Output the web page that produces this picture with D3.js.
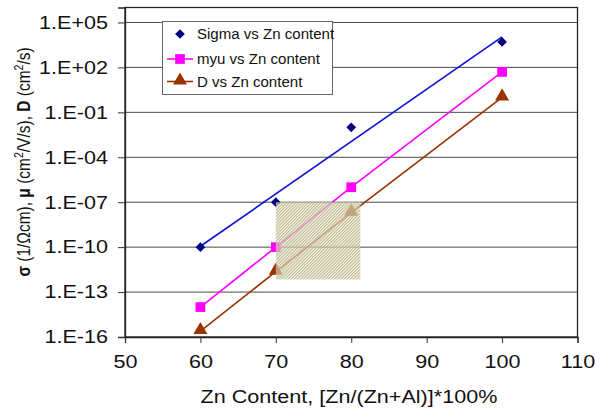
<!DOCTYPE html>
<html><head><meta charset="utf-8">
<script src="https://cdn.jsdelivr.net/npm/d3@7"></script>
<style>body{margin:0;background:#fff}svg{display:block}text{font-family:Arial,"Liberation Sans",sans-serif}</style>
</head><body>
<svg id="c" width="595" height="408"></svg>
<script>
const zn = [60, 70, 80, 100];
const sigma = [1e-10, 1e-7, 1e-2, 5e3];
const myu = [1e-14, 1e-10, 1e-6, 50];
const dvals = [2.5e-16, 2.3e-12, 2e-8, 1];
const xTicks = [50, 60, 70, 80, 90, 100, 110];
const yTicks = [1e-16, 1e-13, 1e-10, 1e-7, 1e-4, 1e-1, 1e2, 1e5];
const yTickLabels = ["1.E-16", "1.E-13", "1.E-10", "1.E-07", "1.E-04", "1.E-01", "1.E+02", "1.E+05"];
const hatchX = [70, 81.2];
const hatchY = [7e-13, 1e-7];
const legendNames = ["Sigma vs Zn content", "myu vs Zn content", "D vs Zn content"];

const svg = d3.select("#c");
const L = 125, R = 577.5, T = 7.5, B = 337;
const SX = 1.18; // horizontal stretch of the original picture's text
const x = d3.scaleLinear().domain([50, 110]).range([L, R]);
const y = d3.scaleLog().domain([1e-16, 1e6]).range([B, T]);

function stretch(sel, f) {
  sel.each(function () {
    const w = this.getComputedTextLength();
    d3.select(this).attr("textLength", w * f).attr("lengthAdjust", "spacingAndGlyphs");
  });
}

// gridlines
svg.append("g").selectAll("line").data(yTicks.slice(1)).join("line")
  .attr("x1", L).attr("x2", R).attr("y1", d => y(d)).attr("y2", d => y(d))
  .attr("stroke", "#4a4a4a").attr("stroke-width", 1);

// plot frame
svg.append("rect").attr("x", L).attr("y", T).attr("width", R - L).attr("height", B - T)
  .attr("fill", "none").attr("stroke", "#222").attr("stroke-width", 1.3);

// axes
const yAx = svg.append("g").attr("transform", `translate(${L},0)`)
  .call(d3.axisLeft(y).tickValues(yTicks).tickSize(7).tickPadding(10)
    .tickFormat((d, i) => yTickLabels[i]));
const xAx = svg.append("g").attr("transform", `translate(0,${B})`)
  .call(d3.axisBottom(x).tickValues(xTicks).tickSize(6).tickPadding(12).tickFormat(d3.format("d")));
[yAx, xAx].forEach(g => {
  g.select(".domain").attr("stroke", "#222").attr("stroke-width", 1.3);
  g.selectAll(".tick line").attr("stroke", "#333");
  g.selectAll("text").attr("font-size", 18.3).attr("fill", "#111")
    .style("font-family", "Arial, 'Liberation Sans', sans-serif");
});
stretch(yAx.selectAll("text"), SX);
stretch(xAx.selectAll("text"), SX);
xAx.selectAll("text").attr("dy", "0.71em");

// sigma exponential trendline (least squares on log10)
const lx = zn, ly = sigma.map(Math.log10);
const mx = d3.mean(lx), my = d3.mean(ly);
const slope = d3.sum(lx, (v, i) => (v - mx) * (ly[i] - my)) / d3.sum(lx, v => (v - mx) ** 2);
const trend = [zn[0], zn[zn.length - 1]].map(v => [v, Math.pow(10, my + slope * (v - mx))]);
svg.append("path").datum(trend)
  .attr("d", d3.line().x(d => x(d[0])).y(d => y(d[1])))
  .attr("fill", "none").attr("stroke", "#1010d8").attr("stroke-width", 1.6);

const line = d3.line().x((d, i) => x(zn[i])).y(d => y(d));
svg.append("path").datum(myu).attr("d", line).attr("fill", "none").attr("stroke", "#ff00ff").attr("stroke-width", 1.6);
svg.append("path").datum(dvals).attr("d", line).attr("fill", "none").attr("stroke", "#993300").attr("stroke-width", 1.6);

const sym = {
  sigma: d3.symbol().type(d3.symbolDiamond2).size(60),
  myu: d3.symbol().type(d3.symbolSquare).size(95),
  d: d3.symbol().type(d3.symbolTriangle).size(85)
};
svg.append("g").selectAll("path").data(sigma).join("path")
  .attr("transform", (d, i) => `translate(${x(zn[i])},${y(d)})`).attr("d", sym.sigma).attr("fill", "#000080");
svg.append("g").selectAll("path").data(myu).join("path")
  .attr("transform", (d, i) => `translate(${x(zn[i])},${y(d)})`).attr("d", sym.myu).attr("fill", "#ff00ff");
svg.append("g").selectAll("path").data(dvals).join("path")
  .attr("transform", (d, i) => `translate(${x(zn[i])},${y(d) - 1})`).attr("d", sym.d).attr("fill", "#993300");

// hatched region
const defs = svg.append("defs");
const pw = 2.2;
const pat = defs.append("pattern").attr("id", "hatch").attr("patternUnits", "userSpaceOnUse")
  .attr("width", pw).attr("height", pw).attr("patternTransform", "rotate(45)");
pat.append("rect").attr("width", pw).attr("height", pw).attr("fill", "#f2efe0").attr("fill-opacity", 0.6);
pat.append("rect").attr("width", pw / 2).attr("height", pw).attr("fill", "#aaa36c").attr("fill-opacity", 0.72);
svg.append("rect")
  .attr("x", x(hatchX[0])).attr("y", y(hatchY[1]))
  .attr("width", x(hatchX[1]) - x(hatchX[0])).attr("height", y(hatchY[0]) - y(hatchY[1]))
  .attr("fill", "url(#hatch)");

// legend
const lg = svg.append("g");
lg.append("rect").attr("x", 162.5).attr("y", 21.5).attr("width", 170).attr("height", 73)
  .attr("fill", "#fff").attr("stroke", "#666").attr("stroke-width", 1);
const ly0 = [34, 59, 81.5];
const lcol = [["#000080", null], ["#ff00ff", "#ff00ff"], ["#993300", "#993300"]];
const lsym = [sym.sigma, sym.myu, sym.d];
legendNames.forEach((n, i) => {
  if (lcol[i][1]) lg.append("line").attr("x1", 167).attr("x2", 193).attr("y1", ly0[i]).attr("y2", ly0[i])
    .attr("stroke", lcol[i][1]).attr("stroke-width", 1.6);
  lg.append("path").attr("transform", `translate(180,${ly0[i] - (i === 2 ? 1 : 0)})`).attr("d", lsym[i]).attr("fill", lcol[i][0]);
  const t = lg.append("text").attr("x", 197).attr("y", ly0[i] + 5).attr("font-size", 13.8).attr("fill", "#111").text(n);
  stretch(t, 1.09);
});

// axis titles
const xt = svg.append("text").attr("x", 349).attr("y", 403).attr("text-anchor", "middle")
  .attr("font-size", 18.3).attr("fill", "#111").text("Zn Content, [Zn/(Zn+Al)]*100%");
stretch(xt, SX);

const yt = svg.append("text").attr("transform", "translate(30,162) scale(1.18,1) rotate(-90)")
  .attr("text-anchor", "middle").attr("font-size", 15.5).attr("fill", "#111");
const parts = [
  ["σ", true, false], [" (1/Ωcm), ", false, false], ["μ", true, false], [" (cm", false, false], ["2", false, true],
  ["/V/s), ", false, false], ["D", true, false], [" (cm", false, false], ["2", false, true], ["/s)", false, false]
];
let prevSup = false;
parts.forEach(([t, b, sup]) => {
  const ts = yt.append("tspan").text(t).attr("font-weight", b ? "bold" : "normal");
  if (sup) { ts.attr("dy", -6).attr("font-size", 10.5); prevSup = true; }
  else if (prevSup) { ts.attr("dy", 6); prevSup = false; }
});
</script>
</body></html>
